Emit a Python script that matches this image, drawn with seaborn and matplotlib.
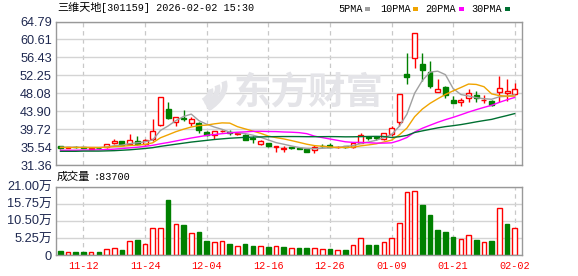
import numpy as np
import pandas as pd
import matplotlib
matplotlib.use("Agg")
import matplotlib.pyplot as plt
from matplotlib.patches import Arc
import seaborn as sns

# ---------------- data ----------------
dates = ["11-07", "11-10", "11-11", "11-12", "11-13", "11-14", "11-17", "11-18", "11-19", "11-20",
         "11-21", "11-24", "11-25", "11-26", "11-27", "11-28", "12-01", "12-02", "12-03", "12-04",
         "12-05", "12-08", "12-09", "12-10", "12-11", "12-12", "12-15", "12-16", "12-17", "12-18",
         "12-19", "12-22", "12-23", "12-24", "12-25", "12-26", "12-29", "12-30", "12-31", "01-05",
         "01-06", "01-07", "01-08", "01-09", "01-12", "01-13", "01-14", "01-15", "01-16", "01-19",
         "01-20", "01-21", "01-22", "01-23", "01-26", "01-27", "01-28", "01-29", "01-30", "02-02"]

opens = [35.7, 35.4, 35.6, 35.5, 35.2, 35.4, 35.5, 36.4, 36.9, 36.2,
         37.0, 36.2, 37.5, 40.7, 44.3, 41.4, 42.2, 41.1, 41.2, 39.1,
         38.3, 39.2, 39.0, 38.6, 38.4, 37.6, 36.2, 36.5, 35.6, 35.2,
         35.5, 35.4, 35.2, 34.8, 35.9, 36.0, 35.5, 35.7, 35.5, 36.6,
         37.8, 37.8, 37.4, 38.5, 41.3, 52.6, 56.4, 55.0, 53.0, 48.4,
         49.6, 46.5, 46.0, 46.9, 47.7, 46.4, 46.3, 48.3, 48.2, 47.8]
highs = [35.8, 35.6, 35.8, 35.6, 35.5, 35.5, 36.3, 37.4, 37.0, 38.5,
         38.1, 37.4, 42.0, 47.2, 46.0, 42.6, 44.2, 42.5, 41.4, 39.2,
         39.3, 39.5, 39.5, 39.0, 38.5, 38.0, 37.1, 36.6, 35.8, 35.8,
         35.6, 35.5, 35.25, 36.0, 36.2, 36.5, 35.7, 35.9, 36.7, 38.7,
         37.9, 38.0, 38.9, 40.4, 48.0, 57.5, 62.1, 57.4, 55.6, 51.3,
         49.8, 47.4, 47.0, 49.1, 48.6, 47.6, 46.6, 52.1, 51.3, 50.4]
lows = [35.2, 35.3, 35.4, 35.3, 35.2, 35.2, 35.4, 36.3, 36.0, 36.0,
        36.1, 36.0, 37.0, 40.4, 42.0, 40.5, 41.5, 40.4, 38.9, 38.2,
        37.4, 39.0, 38.4, 38.3, 37.1, 36.5, 36.0, 35.5, 34.4, 34.4,
        35.1, 35.0, 34.4, 34.2, 35.5, 35.6, 35.4, 35.3, 35.3, 36.5,
        37.2, 37.1, 37.2, 38.0, 40.4, 50.3, 53.9, 50.9, 49.4, 48.3,
        46.9, 45.8, 45.2, 46.1, 46.1, 45.7, 45.1, 46.1, 46.3, 47.7]
closes = [35.4, 35.5, 35.5, 35.4, 35.35, 35.3, 36.2, 37.0, 36.1, 37.1,
          36.3, 37.2, 39.3, 47.1, 42.4, 42.5, 42.0, 42.1, 39.4, 38.3,
          39.2, 39.35, 38.8, 38.8, 37.2, 37.4, 36.9, 35.7, 35.7, 35.3,
          35.35, 35.15, 34.45, 35.6, 35.7, 35.65, 35.6, 35.6, 36.5, 38.3,
          37.6, 37.6, 38.7, 40.0, 47.9, 51.8, 62.0, 53.5, 49.8, 49.0,
          47.7, 45.9, 46.5, 48.1, 47.0, 46.5, 45.3, 49.4, 48.6, 49.0]

# volume in 万 (10k shares) and colour flag (1 = red / up day, 0 = green)
volume_wan = [1.3, 0.8, 0.9, 0.9, 0.8, 0.9, 1.7, 2.0, 1.5, 4.3,
              4.6, 3.4, 8.2, 8.2, 16.9, 9.4, 9.2, 6.7, 7.1, 4.3,
              3.9, 4.2, 3.4, 2.7, 3.4, 2.8, 2.8, 2.5, 2.8, 2.5,
              2.0, 2.2, 2.2, 2.0, 1.7, 1.8, 1.4, 1.5, 3.0, 5.1,
              3.1, 3.1, 3.9, 5.1, 9.7, 19.3, 19.6, 15.4, 12.3, 7.7,
              7.1, 5.4, 4.8, 6.0, 4.6, 3.9, 4.3, 14.3, 9.5, 8.37]
volume_up = [0, 1, 0, 0, 1, 0, 1, 1, 0, 1,
             0, 1, 1, 1, 0, 1, 0, 1, 0, 0,
             1, 1, 0, 1, 0, 0, 1, 0, 1, 0,
             1, 0, 0, 1, 1, 0, 1, 0, 1, 1,
             0, 0, 1, 1, 1, 1, 1, 0, 0, 0,
             0, 0, 1, 1, 0, 1, 0, 1, 0, 1]

ma5 = [35.5, 35.5, 35.5, 35.45, 35.43, 35.41, 35.55, 35.85, 35.99, 36.34,
       36.54, 36.74, 37.2, 39.4, 40.46, 41.7, 42.66, 43.22, 41.68, 40.86,
       40.2, 39.67, 39.01, 38.89, 38.67, 38.31, 37.82, 37.2, 36.58, 36.2,
       35.79, 35.44, 35.19, 35.17, 35.25, 35.36, 35.45, 35.68, 35.86, 36.38,
       36.72, 37.12, 37.74, 38.44, 40.36, 43.2, 48.08, 51.04, 53.0, 53.22,
       52.4, 49.18, 47.78, 47.44, 47.04, 46.8, 46.68, 47.26, 47.36, 47.76]
ma10 = [35.45, 35.45, 35.45, 35.45, 35.45, 35.45, 35.49, 35.65, 35.72, 35.89,
        35.98, 36.15, 36.53, 37.7, 38.4, 39.12, 39.7, 40.21, 40.54, 40.66,
        40.95, 41.17, 41.12, 40.29, 39.77, 39.26, 38.75, 38.1, 37.74, 37.44,
        37.05, 36.63, 36.2, 35.88, 35.73, 35.58, 35.45, 35.44, 35.52, 35.82,
        36.04, 36.29, 36.71, 37.15, 38.37, 39.96, 42.6, 44.39, 45.72, 46.79,
        47.8, 48.63, 49.41, 50.22, 50.13, 49.6, 47.93, 47.52, 47.4, 47.4]
ma20 = [34.8, 34.8, 34.8, 34.85, 34.85, 34.9, 34.95, 35.05, 35.2, 35.35,
        35.5, 35.7, 35.95, 36.3, 36.6, 36.95, 37.3, 37.65, 37.95, 38.27,
        38.47, 38.66, 38.82, 39.0, 39.08, 39.19, 39.22, 39.16, 39.14, 39.05,
        39.0, 38.9, 38.66, 38.08, 37.75, 37.42, 37.1, 36.77, 36.63, 36.63,
        36.55, 36.46, 36.46, 36.52, 37.05, 37.77, 39.03, 39.92, 40.62, 41.31,
        41.92, 42.46, 43.06, 43.69, 44.25, 44.78, 45.27, 45.96, 46.56, 47.1]
ma30 = [34.55, 34.55, 34.55, 34.6, 34.6, 34.6, 34.65, 34.7, 34.8, 34.9,
        35.05, 35.2, 35.4, 35.7, 35.95, 36.2, 36.45, 36.7, 36.9, 37.1,
        37.3, 37.45, 37.6, 37.7, 37.8, 37.85, 37.9, 37.95, 37.97, 37.99,
        37.99, 37.98, 37.95, 37.95, 37.96, 37.98, 37.96, 37.92, 37.93, 37.97,
        38.01, 38.03, 38.01, 37.77, 37.95, 38.26, 38.93, 39.31, 39.66, 40.01,
        40.3, 40.52, 40.77, 41.08, 41.41, 41.71, 41.99, 42.45, 42.88, 43.34]

price_ticks = [31.36, 35.54, 39.72, 43.90, 48.08, 52.25, 56.43, 60.61, 64.79]
volume_ticks = [0, 5.25, 10.5, 15.75, 21.0]
volume_tick_labels = ["0", "5.25万", "10.50万", "15.75万", "21.00万"]
xtick_labels = ["11-12", "11-24", "12-04", "12-16", "12-26", "01-09", "01-21", "02-02"]
ma_names = ["5PMA", "10PMA", "20PMA", "30PMA"]
stock_name = "三维天地"
title_rest = "[301159] 2026-02-02 15:30"
volume_title = "成交量"
last_volume = ":83700"
watermark = "东方财富"

# ---------------- style ----------------
sns.set_theme(style="white")
plt.rcParams["font.family"] = ["Liberation Sans", "Noto Sans CJK SC", "DejaVu Sans"]

RED = "#ff0000"
GREEN = "#008000"
MA_COLORS = {"5PMA": "#a0a0a0", "10PMA": "#f0a400", "20PMA": "#ff00ff", "30PMA": "#007032"}
FRAME = "#999999"
GRID = "#d4d4d4"
LABEL = "#1e2850"
WM = "#e4e4e8"

W, H = 578, 276
fig = plt.figure(figsize=(W / 100, H / 100), dpi=100)
fig.patch.set_facecolor("white")

def fx(px):
    return px / W

def fy(py):
    return 1 - py / H

L, R = 56, 522
ax = fig.add_axes([fx(L), fy(165), fx(R - L), (165 - 21.5) / H])
axv = fig.add_axes([fx(L), fy(255), fx(R - L), (255 - 186.7) / H])

n = len(closes)
idx = np.arange(n)
tick_pos = [dates.index(d) for d in xtick_labels]
xlim = (-0.56, n - 1 + 0.94)

for a in (ax, axv):
    a.set_facecolor("none")
    for s in a.spines.values():
        s.set_color(FRAME)
        s.set_linewidth(1.0)
    a.set_xlim(*xlim)
    a.set_xticks(tick_pos)
    a.grid(True, axis="y", color=GRID, linewidth=1.0, linestyle="-", zorder=0)
    a.grid(True, axis="x", color="#c8c8c8", linewidth=0.9, linestyle=(0, (3.5, 3)), zorder=0)
    a.set_axisbelow(True)
    a.tick_params(axis="x", length=0)
    a.tick_params(axis="y", length=2, width=0.8, color=FRAME, pad=1, labelcolor=LABEL,
                  labelsize=9.2)

# watermark (logo swoosh + name), drawn behind the axes
for k, (r, lw) in enumerate([(9, 4.0), (15, 4.0), (21, 4.0)]):
    arc = Arc((fx(200), fy(95)), 2 * r / W, 2 * r / H, angle=-20, theta1=-55, theta2=70,
              transform=fig.transFigure, color=WM, linewidth=lw, zorder=0.2)
    fig.add_artist(arc)
fig.text(fx(309), fy(93), watermark, fontsize=27, fontweight="bold", color=WM,
         family=["Noto Sans CJK SC"], ha="center", va="center", zorder=0.2)

# ---------------- price panel ----------------
ax.set_ylim(price_ticks[0], price_ticks[-1])
ax.set_yticks(price_ticks)
ax.set_yticklabels([f"{t:.2f}" for t in price_ticks])
ax.set_xticklabels([])

body_w = 0.64
for i in range(n):
    o, h, l, c = opens[i], highs[i], lows[i], closes[i]
    up = c >= o
    col = RED if up else GREEN
    lo_b, hi_b = min(o, c), max(o, c)
    hgt = max(hi_b - lo_b, 0.06)
    ax.vlines(i, hi_b, h, color=col, linewidth=1.0, zorder=2)
    ax.vlines(i, l, lo_b, color=col, linewidth=1.0, zorder=2)
    ax.bar(i, hgt, bottom=lo_b, width=body_w, facecolor="white" if up else GREEN,
           edgecolor=col, linewidth=1.0, zorder=2.5)

ma_df = pd.DataFrame({"i": idx, "5PMA": ma5, "10PMA": ma10, "20PMA": ma20, "30PMA": ma30})
ma_long = ma_df.melt(id_vars="i", var_name="ma", value_name="price")
sns.lineplot(data=ma_long, x="i", y="price", hue="ma", hue_order=ma_names,
             palette=MA_COLORS, linewidth=1.0, legend=False, ax=ax, zorder=3)
ax.set_xlabel("")
ax.set_ylabel("")
ax.set_xlim(*xlim)

# ---------------- volume panel ----------------
axv.set_ylim(0, 21)
axv.set_yticks(volume_ticks)
axv.set_yticklabels(volume_tick_labels)
for i in range(n):
    up = volume_up[i] == 1
    axv.bar(i, volume_wan[i], width=0.6, facecolor="white" if up else GREEN,
            edgecolor=RED if up else GREEN, linewidth=1.0, zorder=2)
axv.set_xticklabels(xtick_labels)
axv.tick_params(axis="x", labelcolor=RED, labelsize=7.3, pad=4)
for t in axv.get_xticklabels():
    t.set_family(["Liberation Mono"])
axv.set_xlabel("")
axv.set_ylabel("")

# ---------------- header texts ----------------
fig.text(fx(57), fy(8), stock_name, fontsize=8, color="black",
         family=["Noto Sans CJK SC"], ha="left", va="center")
fig.text(fx(101), fy(8), title_rest, fontsize=7.3, color="black",
         family=["Liberation Mono"], ha="left", va="center")

legend_x = [338.3, 380, 425.7, 471.7]
square_x = [365.3, 413.3, 459.3, 505]
for name, tx, sx in zip(ma_names, legend_x, square_x):
    fig.text(fx(tx), fy(8.5), name, fontsize=7.3, color="black",
             family=["Liberation Mono"], ha="left", va="center")
    fig.patches.append(plt.Rectangle((fx(sx), fy(10.7)), fx(5), 3.5 / H,
                                     transform=fig.transFigure, facecolor=MA_COLORS[name],
                                     edgecolor="none"))

fig.text(fx(57), fy(177), volume_title, fontsize=8, color="black",
         family=["Noto Sans CJK SC"], ha="left", va="center")
fig.text(fx(93), fy(177), last_volume, fontsize=7.3, color="black",
         family=["Liberation Mono"], ha="left", va="center")

fig.savefig("out.png", dpi=100, facecolor="white")
